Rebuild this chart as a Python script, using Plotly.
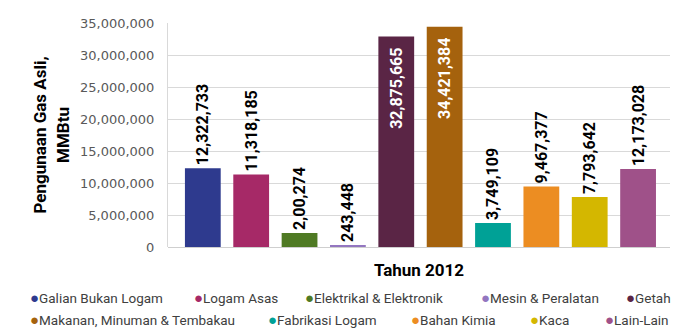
import plotly.graph_objects as go

# sektor industri, 2012
sektor = ["Galian Bukan Logam", "Logam Asas", "Elektrikal & Elektronik",
          "Mesin & Peralatan", "Getah", "Makanan, Minuman & Tembakau",
          "Fabrikasi Logam", "Bahan Kimia", "Kaca", "Lain-Lain"]
gas_mmbtu = [12322733, 11318185, 2200274, 243448, 32875665,
             34421384, 3749109, 9467377, 7793642, 12173028]
label_teks = ["12,322,733", "11,318,185", "2,00,274", "243,448", "32,875,665",
              "34,421,384", "3,749,109", "9,467,377", "7,793,642", "12,173,028"]
warna = ["#2e3a8e", "#a62967", "#4f7a24", "#9376c0", "#5a2545",
         "#a5620d", "#00a196", "#ec8d22", "#d4b700", "#9f5189"]

FONT = "Roboto"

fig = go.Figure()
for i in range(len(sektor)):
    didalam = gas_mmbtu[i] > 30000000
    fig.add_trace(go.Bar(
        x=[sektor[i]], y=[gas_mmbtu[i]],
        marker=dict(color=warna[i], line=dict(width=0)),
        width=0.74,
        # label di dalam batang diberi jarak dari ujung atas
        text=[label_teks[i] + ("&nbsp;&nbsp;" if didalam else "")],
        textposition="inside" if didalam else "outside",
        insidetextanchor="end",
        constraintext="none",
        textangle=-90,
        textfont=dict(family=FONT, size=16, color="white" if didalam else "black",
                      weight="bold"),
        cliponaxis=False,
        showlegend=False,
        hoverinfo="skip",
    ))

# page body has an 8px margin, so the figure is drawn 8px smaller
fig.update_layout(
    width=675, height=320,
    margin=dict(l=160, r=13, t=15, b=81),
    plot_bgcolor="white", paper_bgcolor="white",
    barmode="overlay",
    font=dict(family=FONT, color="black"),
    xaxis=dict(
        range=[-0.72, 9.66], showticklabels=False, showgrid=False,
        title=dict(text="<b>Tahun 2012</b>", font=dict(family=FONT, size=17), standoff=17),
    ),
    yaxis=dict(
        range=[0, 35000000], dtick=5000000, tickformat=",d",
        showgrid=True, gridcolor="#d9d9d9", gridwidth=1,
        zeroline=True, zerolinecolor="#cfcfcf", zerolinewidth=1,
        showline=True, linecolor="#d9d9d9", linewidth=1,
        tickfont=dict(family="DejaVu Sans", size=13, color="#595959"),
        ticklabelstandoff=10,
        title=dict(text="<b>Pengunaan Gas Asli,<br>MMBtu</b>",
                   font=dict(family=FONT, size=17), standoff=6),
        automargin=False,
    ),
)

# legenda manual: posisi piksel simbol (koordinat figure)
leg_x = [21, 185, 296, 472, 617, 21, 259, 402, 521, 596]
leg_y = [289.5, 289.5, 289.5, 289.5, 289.5, 311.5, 311.5, 311.5, 311.5, 311.5]
for i in range(len(sektor)):
    fig.add_annotation(
        xref="paper", yref="paper",
        x=(leg_x[i] - 160) / 502, y=(239 - leg_y[i]) / 224,
        xanchor="left", yanchor="middle", showarrow=False,
        borderpad=0,
        text=f'<span style="color:{warna[i]};font-size:15px">●</span>{sektor[i]}',
        font=dict(family=FONT, size=13.5, color="#404040"),
    )

fig.write_html("out.html")
